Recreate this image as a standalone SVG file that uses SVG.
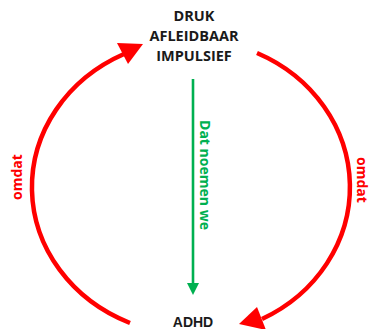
<svg xmlns="http://www.w3.org/2000/svg" width="371" height="329" viewBox="0 0 371 329">
  <style>
    .lbl { font-family: "Open Sans", "Liberation Sans", sans-serif; font-weight: bold; }
    .top { font-size: 14.5px; fill: #1a1a1a; text-anchor: middle; }
    .red { font-size: 14px; fill: #ff0000; text-anchor: middle; }
    .grn { font-size: 14px; fill: #00b050; text-anchor: middle; }
    .adhd { font-family: "Liberation Sans", Arial, sans-serif; font-weight: bold; font-size: 14px; fill: #1a1a1a; text-anchor: middle; }
    .arc { fill: none; stroke: #ff0000; stroke-width: 4.5; }
    .head-red { fill: #ff0000; }
    .vline { stroke: #00b050; stroke-width: 2.6; }
    .head-grn { fill: #00b050; }
  </style>
  <rect width="371" height="329" fill="#ffffff"/>

  <g id="node-top">
    <text class="lbl top" x="194" y="21">DRUK</text>
    <text class="lbl top" x="194" y="41">AFLEIDBAAR</text>
    <text class="lbl top" x="194" y="61">IMPULSIEF</text>
  </g>

  <g id="node-adhd">
    <text class="adhd" x="193" y="327">ADHD</text>
  </g>

  <g id="connectors">
    <g id="edge-left">
      <path class="arc" d="M 130 323 A 163 148 0 0 1 124 54"/>
      <polygon class="head-red" points="143,44 117,43 128,64"/>
      <text class="lbl red" transform="translate(22,177) rotate(-90)">omdat</text>
    </g>
    <g id="edge-right">
      <path class="arc" d="M 257 53 A 161 148 0 0 1 262 319"/>
      <polygon class="head-red" points="239,324 257,307 266,330"/>
      <text class="lbl red" transform="translate(357,180) rotate(90)">omdat</text>
    </g>
    <g id="edge-center">
      <line class="vline" x1="193" y1="79" x2="193" y2="284"/>
      <polygon class="head-grn" points="187,283 199,283 193,295"/>
      <text class="lbl grn" transform="translate(200,175) rotate(90)" textLength="110" lengthAdjust="spacingAndGlyphs">Dat noemen we</text>
    </g>
  </g>
</svg>
